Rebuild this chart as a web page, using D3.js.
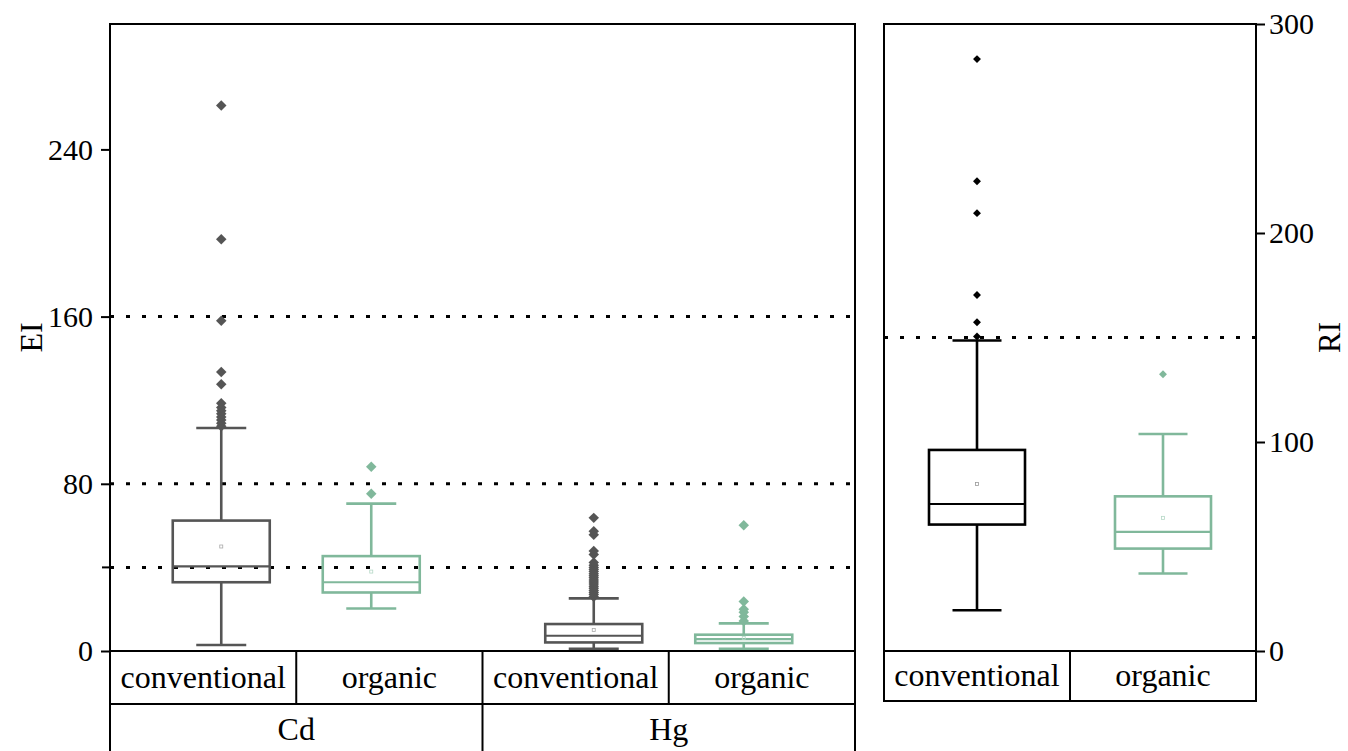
<!DOCTYPE html>
<html>
<head>
<meta charset="utf-8">
<script src="https://cdn.jsdelivr.net/npm/d3@7"></script>
<style>
  html, body { margin: 0; padding: 0; background: #fff; }
  svg text { font-family: "Liberation Serif", "Times New Roman", serif; fill: #000; }
</style>
</head>
<body>
<svg id="chart" width="1348" height="751"></svg>
<script>
// ---------------- DATA ----------------
const elements = ["Cd", "Hg"];
const farmTypes = ["conventional", "organic"];

// EI box statistics, order: Cd-conv, Cd-org, Hg-conv, Hg-org
const eiMin    = [2.9, 20.3, 1.0, 1.0];
const eiQ1     = [32.9, 28.0, 4.1, 3.8];
const eiMedian = [40.5, 32.9, 7.3, 5.7];
const eiQ3     = [62.4, 45.4, 12.9, 7.8];
const eiMax    = [106.7, 70.5, 25.2, 13.2];
const eiMean   = [50.0, 38.0, 10.0, 6.3];
const eiOutliers = [
  [107.5, 109, 110.5, 112, 113.5, 115, 116.5, 118.5, 127.6, 133.5, 158, 197, 261],
  [75.2, 88.2],
  [26, 27, 28, 29, 30, 31, 32, 33, 34, 35, 36, 37, 38, 39, 40, 41, 42.4, 46.2, 47.8, 55.6, 57.3, 63.7],
  [14.4, 16.5, 18.5, 20, 23.7, 60.2]
];
const eiTicks = [0, 80, 160, 240];
const eiMinorTicks = [40];
const eiRefLines = [40, 80, 160];

// RI box statistics, order: conventional, organic
const riMin    = [19.5, 37.1];
const riQ1     = [60.5, 49.0];
const riMedian = [70.3, 57.0];
const riQ3     = [96.2, 74.0];
const riMax    = [148.6, 103.8];
const riMean   = [79.9, 63.7];
const riOutliers = [
  [150.5, 157.3, 170.3, 209.5, 224.8, 283.2],
  [132.4]
];
const riTicks = [0, 100, 200, 300];
const riRefLines = [150];

// ---------------- LAYOUT ----------------
const svg = d3.select("#chart");
const yTop = 24, yBottom = 651;
const L = { x0: 110, x1: 855 };
const R = { x0: 884, x1: 1256 };
const row1 = 704, rowR = 701, svgBottom = 751;

const colGray = "#555555", colGreen = "#80b89b";
const leftColors = [colGray, colGreen, colGray, colGreen];
const leftMeanColors = ["#aaaaaa", "#b5d8c6", "#aaaaaa", "#b5d8c6"];
const rightColors = ["#000000", colGreen];
const rightMeanColors = ["#999999", "#b5d8c6"];

const yL = d3.scaleLinear().domain([0, 300]).range([yBottom, yTop]);
const yR = d3.scaleLinear().domain([0, 300]).range([yBottom, yTop]);

// x scales for boxes
const xGroup = d3.scaleBand().domain(elements).range([L.x0, L.x1]);
const gbw = xGroup.bandwidth();
const xType = d3.scaleBand().domain(farmTypes).range([gbw / 2 - 150, gbw / 2 + 150]);
const leftKeys = [];
elements.forEach(e => farmTypes.forEach(t => leftKeys.push({ e, t })));
const leftCX = leftKeys.map(k => xGroup(k.e) + xType(k.t) + xType.bandwidth() / 2);

const xR = d3.scaleBand().domain(farmTypes).range([R.x0, R.x1]).paddingInner(0).paddingOuter(0);
const rightCX = farmTypes.map(t => xR(t) + xR.bandwidth() / 2);

// table scales
const xCell = d3.scaleBand().domain(d3.range(4)).range([L.x0, L.x1]);

// ---------------- DRAW HELPERS ----------------
function drawBox(g, cx, y, s, color, meanColor, halfW, capHalf, sw, diamondSize) {
  const q1 = y(s.q1), q3 = y(s.q3), med = y(s.median);
  g.append("line").attr("x1", cx).attr("x2", cx).attr("y1", y(s.max)).attr("y2", q3)
    .attr("stroke", color).attr("stroke-width", sw);
  g.append("line").attr("x1", cx).attr("x2", cx).attr("y1", q1).attr("y2", y(s.min))
    .attr("stroke", color).attr("stroke-width", sw);
  [s.max, s.min].forEach(v => g.append("line")
    .attr("x1", cx - capHalf).attr("x2", cx + capHalf).attr("y1", y(v)).attr("y2", y(v))
    .attr("stroke", color).attr("stroke-width", sw));
  g.append("rect").attr("x", cx - halfW).attr("y", q3).attr("width", halfW * 2).attr("height", q1 - q3)
    .attr("fill", "none").attr("stroke", color).attr("stroke-width", sw);
  g.append("line").attr("x1", cx - halfW).attr("x2", cx + halfW).attr("y1", med).attr("y2", med)
    .attr("stroke", color).attr("stroke-width", sw * 0.8);
  g.append("rect").attr("x", cx - 1.5).attr("y", y(s.mean) - 1.5).attr("width", 3).attr("height", 3)
    .attr("fill", "none").attr("stroke", meanColor).attr("stroke-width", 0.8);
  const sym = d3.symbol().type(d3.symbolDiamond2).size(diamondSize);
  g.selectAll(null).data(s.out).enter().append("path")
    .attr("d", sym).attr("transform", d => `translate(${cx},${y(d)})`)
    .attr("fill", color);
}

// ---------------- LEFT PANEL ----------------
const gl = svg.append("g");

gl.selectAll(null).data(eiRefLines).enter().append("line")
  .attr("x1", L.x0).attr("x2", L.x1).attr("y1", d => yL(d)).attr("y2", d => yL(d))
  .attr("stroke", "#000").attr("stroke-width", 3).attr("stroke-dasharray", "4,12");

leftKeys.forEach((k, i) => {
  drawBox(gl, leftCX[i], yL, {
    min: eiMin[i], q1: eiQ1[i], median: eiMedian[i], q3: eiQ3[i], max: eiMax[i], mean: eiMean[i], out: eiOutliers[i]
  }, leftColors[i], leftMeanColors[i], 48.5, 25, 2.6, 70);
});

const axL = d3.axisLeft(yL).tickValues(eiTicks).tickSize(9).tickPadding(8).tickFormat(d3.format("d"));
const gAxL = gl.append("g").attr("transform", `translate(${L.x0},0)`).call(axL);
gAxL.select(".domain").remove();
gAxL.selectAll(".tick line").attr("stroke", "#000").attr("stroke-width", 2);
gAxL.selectAll(".tick text").style("font-size", "30px").style("font-family", "Liberation Serif").attr("fill", "#000");
gl.selectAll(null).data(eiMinorTicks).enter().append("line")
  .attr("x1", L.x0 - 8).attr("x2", L.x0).attr("y1", d => yL(d)).attr("y2", d => yL(d))
  .attr("stroke", "#000").attr("stroke-width", 2);

gl.append("path")
  .attr("d", `M${L.x0},${svgBottom + 2} V${yTop} H${L.x1} V${svgBottom + 2}`)
  .attr("fill", "none").attr("stroke", "#000").attr("stroke-width", 2);
gl.append("line").attr("x1", L.x0).attr("x2", L.x1).attr("y1", yBottom).attr("y2", yBottom)
  .attr("stroke", "#000").attr("stroke-width", 2.2);
gl.append("line").attr("x1", L.x0).attr("x2", L.x1).attr("y1", row1).attr("y2", row1)
  .attr("stroke", "#000").attr("stroke-width", 2);

gl.selectAll(null).data(d3.range(1, 4)).enter().append("line")
  .attr("x1", d => xCell(d)).attr("x2", d => xCell(d)).attr("y1", yBottom).attr("y2", row1)
  .attr("stroke", "#000").attr("stroke-width", 2);
gl.append("line").attr("x1", xGroup("Hg")).attr("x2", xGroup("Hg")).attr("y1", row1).attr("y2", svgBottom + 2)
  .attr("stroke", "#000").attr("stroke-width", 2);
gl.selectAll(null).data(leftKeys).enter().append("text")
  .attr("x", (d, i) => xCell(i) + xCell.bandwidth() / 2).attr("y", 688)
  .attr("text-anchor", "middle").style("font-size", "32px").text(d => d.t);
gl.selectAll(null).data(elements).enter().append("text")
  .attr("x", d => xGroup(d) + gbw / 2).attr("y", 740)
  .attr("text-anchor", "middle").style("font-size", "32px").text(d => d);

gl.append("text").attr("transform", `translate(42,${(yTop + yBottom) / 2}) rotate(-90)`)
  .attr("text-anchor", "middle").style("font-size", "32px").text("EI");

// ---------------- RIGHT PANEL ----------------
const gr = svg.append("g");
gr.selectAll(null).data(riRefLines).enter().append("line")
  .attr("x1", R.x0).attr("x2", R.x1).attr("y1", d => yR(d)).attr("y2", d => yR(d))
  .attr("stroke", "#000").attr("stroke-width", 3).attr("stroke-dasharray", "4,12");

farmTypes.forEach((t, i) => {
  drawBox(gr, rightCX[i], yR, {
    min: riMin[i], q1: riQ1[i], median: riMedian[i], q3: riQ3[i], max: riMax[i], mean: riMean[i], out: riOutliers[i]
  }, rightColors[i], rightMeanColors[i], 48, 24.5, 2.6, 40);
});

const axR = d3.axisRight(yR).tickValues(riTicks).tickSize(9).tickPadding(4).tickFormat(d3.format("d"));
const gAxR = gr.append("g").attr("transform", `translate(${R.x1},0)`).call(axR);
gAxR.select(".domain").remove();
gAxR.selectAll(".tick line").attr("stroke", "#000").attr("stroke-width", 2);
gAxR.selectAll(".tick text").style("font-size", "30px").style("font-family", "Liberation Serif").attr("fill", "#000");

gr.append("path")
  .attr("d", `M${R.x0},${rowR} V${yTop} H${R.x1} V${rowR} Z`)
  .attr("fill", "none").attr("stroke", "#000").attr("stroke-width", 2);
gr.append("line").attr("x1", R.x0).attr("x2", R.x1).attr("y1", yBottom).attr("y2", yBottom)
  .attr("stroke", "#000").attr("stroke-width", 2.2);
gr.append("line").attr("x1", xR("organic")).attr("x2", xR("organic")).attr("y1", yBottom).attr("y2", rowR)
  .attr("stroke", "#000").attr("stroke-width", 2);
gr.selectAll(null).data(farmTypes).enter().append("text")
  .attr("x", d => xR(d) + xR.bandwidth() / 2).attr("y", 686)
  .attr("text-anchor", "middle").style("font-size", "32px").text(d => d);

gr.append("text").attr("transform", `translate(1340,${(yTop + yBottom) / 2}) rotate(-90)`)
  .attr("text-anchor", "middle").style("font-size", "31px").text("RI");
</script>
</body>
</html>
